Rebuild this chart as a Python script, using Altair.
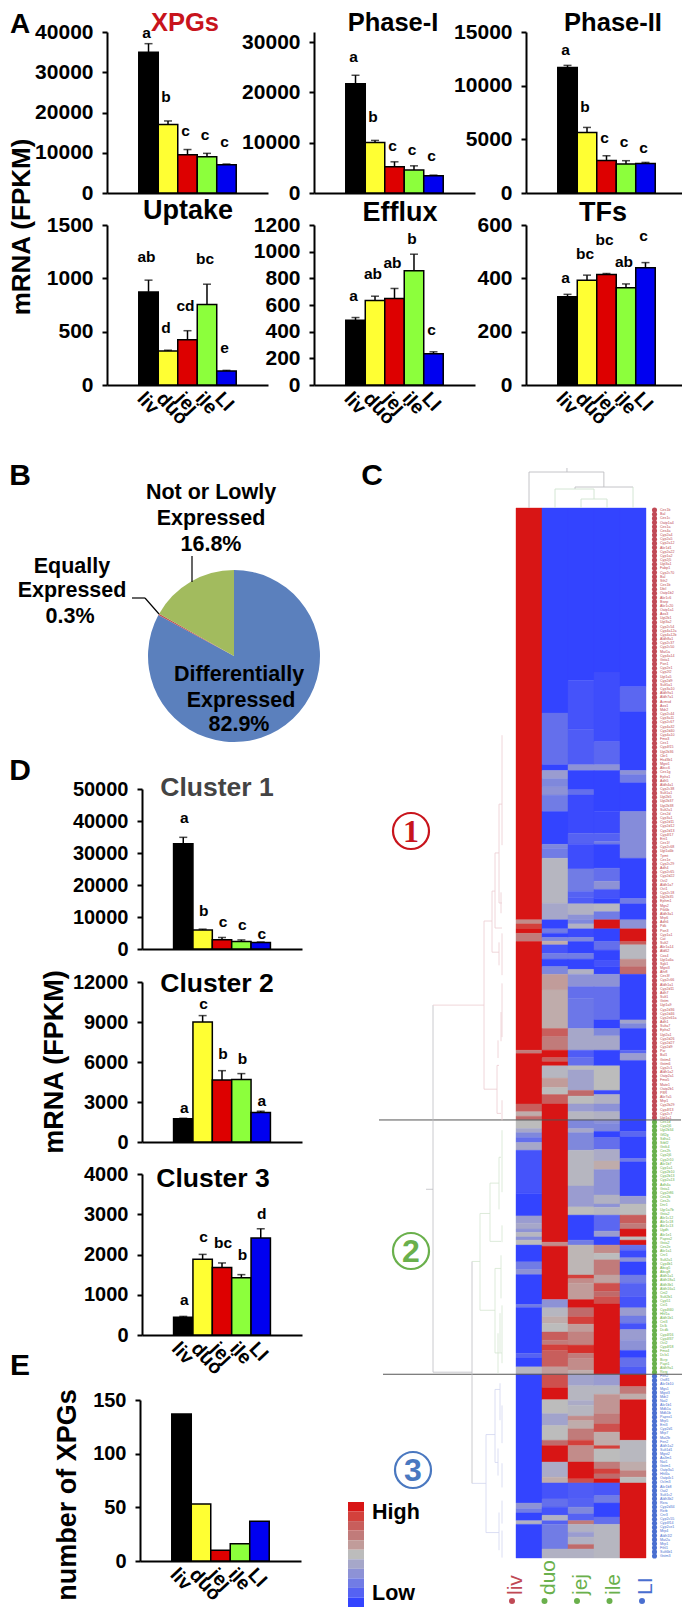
import altair as alt
import pandas as pd

FONT = "Liberation Sans"
W, H = 674, 1600

# ---------- data ----------
tissues = ["liv", "duo", "jej", "ile", "LI"]
tissue_colors = ["#000000", "#ffff33", "#dd0000", "#8cff3c", "#0000f0"]

xpgs_mean = [35000, 17000, 9500, 9000, 7000]
xpgs_err = [2100, 900, 1300, 850, 200]
xpgs_let = ["a", "b", "c", "c", "c"]
xpgs_let_at = [39700, 23800, 15400, 14400, 12700]

phase1_mean = [21700, 10050, 5200, 4550, 3450]
phase1_err = [1700, 400, 1000, 850, 100]
phase1_let = ["a", "b", "c", "c", "c"]
phase1_let_at = [27100, 15200, 9400, 8600, 7300]

phase2_mean = [11690, 5640, 3030, 2710, 2750]
phase2_err = [200, 470, 440, 300, 100]
phase2_let = ["a", "b", "c", "c", "c"]
phase2_let_at = [13280, 8050, 5150, 4770, 4150]

uptake_mean = [873, 318, 424, 755, 131]
uptake_err = [110, 8, 85, 190, 6]
uptake_let = ["ab", "d", "cd", "bc", "e"]
uptake_let_at = [1204, 530, 742, 1179, 343]

efflux_mean = [486, 634, 649, 856, 234]
efflux_err = [20, 32, 75, 125, 15]
efflux_let = ["a", "ab", "ab", "b", "c"]
efflux_let_at = [671, 833, 918, 1093, 414]

tfs_mean = [331, 393, 414, 365, 440]
tfs_err = [9, 19, 4, 14, 19]
tfs_let = ["a", "bc", "bc", "ab", "c"]
tfs_let_at = [400, 490, 543, 462, 560]

c1_mean = [32900, 5900, 2900, 2340, 2000]
c1_err = [2000, 300, 700, 500, 200]
c1_let = ["a", "b", "c", "c", "c"]
c1_let_at = [40850, 11830, 8480, 7590, 4800]

c2_mean = [1750, 9000, 4650, 4680, 2210]
c2_err = [30, 480, 700, 450, 100]
c2_let = ["a", "c", "b", "b", "a"]
c2_let_at = [2530, 10320, 6600, 6200, 3090]

c3_mean = [442, 1883, 1675, 1425, 2409]
c3_err = [20, 120, 115, 75, 230]
c3_let = ["a", "c", "bc", "b", "d"]
c3_let_at = [875, 2430, 2290, 2000, 3000]

xpg_counts = [137, 53, 10, 16, 37]

pie_groups = ["Differentially Expressed", "Equally Expressed", "Not or Lowly Expressed"]
pie_shares = [82.9, 0.3, 16.8]
pie_colors = ["#5b80bd", "#c0504d", "#a2bb5e"]

# heat map: (last row of the block, level 0 = low .. 1 = high)
heat_liv = [(100.4, 1), (101.4, .65), (102.6, .9), (103.7, 1), (105.7, .7), (132.2, 1), (133, .7), (145.3, 1),
            (147.2, .8), (148.3, .55), (149.2, .75), (151.3, .5), (152.3, .4), (153.5, .25), (154.7, .15),
            (156.6, .4), (167.1, .05), (172.6, 0), (174.4, .35), (175.8, .4), (176.6, .3), (177.7, .47),
            (178.5, .3), (179.7, .5), (183.8, 0), (185.7, .2), (186.9, .3), (194.2, 0), (194.9, .2), (206.1, 0),
            (207.2, .1), (209.4, 0), (211.2, .47), (242.6, 0), (244, .3), (245, .2), (246.9, 0), (247.8, .45),
            (256, 0)]
heat_duo = [(50, 0), (62.6, .15), (64, 0), (66, .35), (68, .25), (70, .3), (74, .2), (82, 0), (83, .25), (85.4, .2),
            (96.4, .47), (100.4, .4), (102.6, 0), (103.7, .2), (104.7, 0), (105.6, .25), (106.5, .55), (108.6, .05),
            (110, .2), (111.8, 0), (113.7, .25), (117.5, .6), (126.9, .55), (128.9, .8), (132.2, .7), (134, 1),
            (135, .8), (136, 1), (139, .47), (141.3, .6), (143, .5), (145.3, .8), (179, 1), (180, .65), (193, 1),
            (195, .3), (197.2, .47), (198.8, .55), (200.9, .5), (202.9, .8), (204, .7), (205.4, .9), (209.4, .8),
            (211.2, .6), (214.5, .85), (217.4, 1), (220.8, .5), (223.7, .38), (227.3, .5), (228.6, .75), (232.6, 1),
            (236.3, .42), (237.7, .55), (241.6, .05), (243.6, .15), (245.6, .05), (246.9, .45), (247.8, .1),
            (253.8, .2), (256, .45)]
heat_jej = [(42, 0), (54, .05), (62.6, .08), (64, .3), (68.7, 0), (70, .15), (79.3, .02), (82, .1), (88, .03),
            (93.5, .2), (95, .1), (96.5, .08), (99.2, .45), (100.4, .3), (101.4, .25), (102.6, .45), (104.7, .02),
            (105.7, .25), (108.6, 0), (110, .2), (112.5, 0), (113.7, .45), (116.7, .3), (119.6, .15), (126.9, .18),
            (132.2, .4), (134, .08), (136, .15), (137, .5), (142, .38), (143.4, .75), (145.3, .5), (147.2, .35),
            (149.2, .47), (151.3, .25), (152.3, .4), (156.6, .25), (165.3, .47), (170.4, .35), (172.4, .5),
            (178.5, 0), (179.7, .2), (187, .52), (187.9, .9), (189, .65), (193, .6), (195, 1), (197.2, .75),
            (199, .9), (200.9, .6), (204.1, .68), (206.1, .95), (207.4, .7), (210.2, .65), (211.2, .55), (214, .38),
            (217.6, .47), (218.8, .42), (221.4, .47), (222.5, .65), (224.5, .55), (227.3, .7), (228.6, .9),
            (232.6, .65), (236.7, 1), (237.7, .85), (241.6, .08), (243.6, .1), (245.2, .25), (246.9, .1),
            (247.8, .7), (249.7, .45), (250.9, .35), (252.7, .45), (253.8, .75), (256, .45)]
heat_ile = [(40, 0), (57, .03), (62.6, .12), (64, .3), (74, 0), (79.3, .02), (81.3, .1), (82, .2), (87.8, 0),
            (91, .15), (93, .3), (95.2, .05), (96.5, 0), (98.4, .47), (100.4, .2), (102.6, 1), (105.7, 0),
            (107.8, .15), (110.4, 0), (111.8, .05), (113.7, 0), (116.7, .3), (124.8, .15), (126.9, 0), (128.7, .25),
            (132.2, .4), (136, 0), (142, .5), (143, .02), (145.3, .45), (147.2, .3), (149.2, .45), (150, .3),
            (152, .25), (153.5, 0), (156.4, .15), (159.2, .42), (161.3, .55), (167.5, .3), (169.7, .45), (170.5, .3),
            (172.4, .47), (176.3, .12), (177.7, .35), (179.7, 0), (181.7, .65), (183.3, .5), (187, .7), (189, .58),
            (191, .85), (192.3, .75), (194.1, .85), (211.2, 1), (214, .35), (216.1, .47), (220.8, .62), (223.3, .7),
            (225.3, .85), (228.6, .55), (229.4, .9), (232.6, .5), (234.3, .7), (235.5, .9), (236.7, .75), (237.7, 1),
            (240.8, .06), (242.6, .2), (246, 0), (247.8, .15), (256, .47)]
heat_li = [(43.6, 0), (49.7, .12), (64, 0), (65, .3), (67, .2), (74, 0), (85.4, .27), (95.2, 0), (96.5, .2), (100.4, 0),
           (102.6, .3), (105.7, 1), (106.5, .8), (110, .48), (111.8, .65), (113.7, .75), (124.8, 0), (125.7, .38),
           (126.9, .25), (132.2, 0), (133, .12), (134.7, .35), (152, 0), (153.3, .12), (158.6, 0), (159.4, .2),
           (167.8, 0), (169.7, .35), (172.4, .5), (174.4, .8), (175.8, .7), (177.7, 1), (178.5, .5), (179.7, 1),
           (181, .15), (182.8, .02), (183.8, .3), (187, 0), (189, .2), (192.3, .1), (195, .05), (197, .35),
           (198.8, .2), (200.3, .05), (202.9, .35), (205.4, .3), (207.2, 0), (209.4, .15), (211.2, .08), (214.2, 1),
           (216, .7), (217.4, .55), (227.3, 1), (232.6, .48), (234.7, .55), (236.3, .68), (237.7, .5), (256, 1)]
heat_rows_total = 256
cluster_ends = [149.2, 211.2]
legend_levels = [1, .9, .8, .7, .6, .5, .4, .3, .2, .1, 0]

genes_c1 = ("Ces1b Bal Ces1c Oatp1a4 Ces1a Ces4a Cyp2a4 Cyp2a5 Cyp2a12 Akr1d1 Cyp2a22 Cyp1a2 Cyp2j5 Ugt3a1 Fabp1 Cyp2c70 "
            "Bal Sth2 Ces1b Dbil Oatp1b2 Akr1c6 Bsep Akr1c20 Oatp1a1 Aox3 Ugt2b1 Ugt3a2 Cyp2c54 Cyp4a12a Cyp4a12b Aldh8a1 "
            "Cyp2c37 Cyp2c50 Mat1a Cyp4a14 Gsta1 Pon1 Cyp2e1 Cyp2f2 Ugt1a5 Cyp2d9 Sult5a1 Cyp3a10 Aldh9a1 Aldh7a1 Acmsd "
            "Aox1 Mdr2 Cyp2c44 Cyp3a11 Cyp2c67 Cyp4a32 Cyp2d40 Cyp4a10 Fmo3 Ces1 Cyp4f15 Ugt2b36 Cbr1 Hsd3b1 Mgst1 Abcc6 "
            "Ces1g Ephx1 Adh5 Aldh4a1 Cyp2c38 Sult1a1 Ugt2b5 Ugt2b37 Ugt2b38 Sult2a1 Ces2d Cyp3a1 Cyp2d11 Cyp2d12 Cyp2d13 "
            "Cyp4f17 Ent1 Ces1f Cyp2c68 Ugt1a6b Tpmt Ces1e Cyp2c29 Adh4 Cyp2c65 Cyp2d22 Oct2 Aldh1a7 Oct1 Cyp2c18 Ugt2b35 "
            "Ephm1 Mgs2 Ptk6b Aldh3a1 Mrp6 Adh6 Pdk Pon3 Cyp1a1 Cat Sult2 Akr1a14 Ald62 Cox4 Ugt1a6a Sgk1 Mgst3 Ahr8 Ces3f "
            "Cyp2c66 Aldh1a1 Cyp2d11 Adh7 Sult1 Gstm Ugt1a9 Cyp2d36 Cyp2d46 Cyp2e61a Adh1 Sulta7 Ephx2 Ugt2a1 Cyp2d26 "
            "Cyp2d27 Cyp2d9 Pxr Bal1 Gstm4 Gstm6 Cyp2c1 Aldh1a2 Oatp2a1 Fmo5 Mate1 Oatp2b1 P8R Akr7a5 Mrp1 Cyp2b29 Cyp4f13 "
            "Cyp2c7 Ugt1a1").split()
genes_c2 = ("Ces1d Cyp2j6 Ugt2b34 Gfl2g Sdha1 Srbf2 Gstk4 Ces2h Cyp2j6 Cyp2r10 Akr1b7 Cyp1a1 Cyp2b10 Cyp2b13 Cyp2a13 Adh4a "
            "Gsta1 Cyp2r86 Ces2b Ces2c Dnr1 Ugr1a7b Gsta2 Akr1c12 Akr1c18 Akr1c13 Ugdh Akr1e1 Papss2 Gsta2 Ces2e Akr1a1 "
            "Cnr1 Sult2a1 Cyp4b1 Abcg5 Abcg8 Aldh1a1 Aldh18a1 Aldh3b1 Aldh16a1 Cnt2 Sult2b1 Cyp51 Cst1 Cyp4f40 Hhf1a "
            "Aldh1b1 Cnt3 Dclk Dcdk Cyp4f16 Cyp4f37 Oct2 Cyp4f18 Fmo4 Dclx1 Bcrp Papt1 Aldh9a1 Rxrg").split()
genes_c3 = ("Fen2 Ost81 Akr1b10 Mgs1 Mgst3 Mdr2 Nat2 Akr1b1 Mdk1a Mdk1b Papss1 Mrp5 Ent3 Cyp2d1 Mrp7 Mat2b Fen2 Aldh1a2 "
            "Sult1d1 Mgst2 Aa3m1 Nat1 Gstm1 Oatp3a1 Hhf4a Oatp4c1 Oclm3 Akr1b8 Oat2 Sult1c2 Aldh3b2 Rxra Cyp2d34 Rxrb Cnr3 "
            "Cyp2c55 Cyp4f14 Cyp2ce1 Mrp4 Aldh1l2 Mat2a Mrp1 Fthl1 Sult6b1 Gstm3").split()
cluster_colors = ["#c04a55", "#6ab04c", "#4a6fd0"]
dendro_gray, dendro_pink, dendro_green, dendro_blue = "#bdbdc2", "#ecccd0", "#d4e6d0", "#d2d6f0"

# left dendrogram: (distance from, distance to, row from, row to, colour)
dendro_rows = [
    (69, 69, 121.2, 210.7, dendro_gray), (69, 18, 121.2, 121.2, dendro_pink), (69, 30, 210.7, 210.7, dendro_gray),
    (76, 69, 166.1, 166.1, dendro_gray), (30, 30, 183.7, 237.8, dendro_gray), (30, 22, 183.7, 183.7, dendro_green),
    (30, 16, 237.8, 237.8, dendro_blue),
    (18, 18, 100.7, 141.7, dendro_pink), (18, 10, 100.7, 100.7, dendro_pink), (18, 5, 141.7, 141.7, dendro_pink),
    (10, 10, 93.4, 108.3, dendro_pink), (10, 7, 93.4, 93.4, dendro_pink), (10, 3, 108.3, 108.3, dendro_pink),
    (7, 7, 84.1, 102.4, dendro_pink), (7, 3, 84.1, 84.1, dendro_pink), (7, 0, 102.4, 102.4, dendro_pink),
    (3, 3, 72.2, 96.3, dendro_pink), (3, 0, 72.2, 72.2, dendro_pink), (3, 0, 96.3, 96.3, dendro_pink),
    (0, 0, 55.4, 82.2, dendro_pink), (3, 3, 105.9, 111.5, dendro_pink), (0, 0, 103.7, 113.9, dendro_pink),
    (1, 1, 93.7, 98.8, dendro_pink), (5, 5, 135.9, 147.6, dendro_pink), (5, 3, 135.9, 135.9, dendro_pink),
    (5, 1, 147.6, 147.6, dendro_pink), (4, 4, 129.8, 134.1, dendro_pink), (0, 0, 115.9, 129, dendro_pink),
    (1, 1, 122.9, 130, dendro_pink), (0, 0, 144.4, 149.3, dendro_pink),
    (22, 22, 172, 195.6, dendro_green), (22, 12, 172, 172, dendro_green), (22, 7, 195.6, 195.6, dendro_green),
    (12, 12, 164.6, 178.8, dendro_green), (12, 3, 164.6, 164.6, dendro_green), (12, 1, 178.8, 178.8, dendro_green),
    (3, 3, 158.3, 171, dendro_green), (3, 1, 158.3, 158.3, dendro_green), (0, 0, 151.7, 166.8, dendro_green),
    (0, 0, 174.9, 179, dendro_green), (7, 7, 185.4, 206, dendro_green), (7, 1, 185.4, 185.4, dendro_green),
    (7, 0, 206, 206, dendro_green), (1, 1, 182.2, 192.7, dendro_green), (4, 4, 201.2, 211, dendro_green),
    (2, 2, 196.3, 205.9, dendro_green), (0, 0, 194.4, 208.5, dendro_green),
    (16, 16, 225.9, 249.8, dendro_blue), (16, 7, 225.9, 225.9, dendro_blue), (16, 3, 249.8, 249.8, dendro_blue),
    (7, 7, 214.9, 232.7, dendro_blue), (7, 2, 214.9, 214.9, dendro_blue), (7, 4, 232.7, 232.7, dendro_blue),
    (4, 4, 229.3, 235.9, dendro_blue), (2, 2, 213.4, 222.4, dendro_blue), (0, 0, 218.8, 228, dendro_blue),
    (0, 0, 232.9, 238.8, dendro_blue), (3, 3, 244.9, 254.1, dendro_blue), (0, 0, 242, 247.6, dendro_blue),
    (0, 0, 249.3, 255.9, dendro_blue),
]
# top dendrogram: (column from, column to, height from, height to, colour)
dendro_cols = [
    (1.96, 1.96, 36, 40, dendro_gray), (.5, 3.38, 36, 36, dendro_gray), (.5, .5, 0, 36, dendro_gray),
    (3.38, 3.38, 21, 36, dendro_gray), (2.27, 4.5, 21, 21, dendro_gray), (4.5, 4.5, 0, 21, "#cfe3cf"),
    (2.27, 2.27, 19, 21, dendro_gray), (1.5, 3, 19, 19, "#cfe3cf"), (1.5, 1.5, 0, 19, "#cfe3cf"),
    (3, 3, 9, 19, "#cfe3cf"), (2.5, 3.5, 9, 9, "#cfe3cf"), (2.5, 2.5, 0, 9, "#cfe3cf"), (3.5, 3.5, 0, 9, "#cfe3cf"),
]

ONE = pd.DataFrame({"n": [0]})


def px(v):
    return v - 8


def label(text, x, y, size, color="black", weight="bold", angle=0, align="center", font=FONT):
    return alt.Chart(ONE).mark_text(text=text, fontSize=size, color=color, fontWeight=weight, angle=angle,
                                    align=align, baseline="middle", font=font).encode(
        x=alt.value(px(x)), y=alt.value(px(y)))


def bar_panel(mean, err, lets, lets_at, top, ticks, ax, ax_end, y_top, y_zero, tick_font=21, x_labels=False, dx=-2):
    df = pd.DataFrame({"tissue": tissues, "mean": mean})
    df["hi"] = [m + e for m, e in zip(mean, err)] if err else mean
    df["let"] = lets if lets else [""] * 5
    df["at"] = lets_at if lets_at else mean
    xs = alt.Scale(domain=["_a"] + tissues + ["_b"], range=[px(ax), px(ax_end)], paddingInner=0, paddingOuter=0.63)
    ys = alt.Scale(domain=[0, top], range=[px(y_zero), px(y_top)], nice=False)
    x_axis = alt.Axis(orient="bottom", offset=-(H - px(y_zero)), title=None, ticks=False, grid=False, domainWidth=2,
                      domainColor="black", labels=x_labels, values=tissues, labelAngle=47, labelAlign="left",
                      labelBaseline="middle", labelPadding=10, labelOffset=-8, labelFont=FONT, labelFontSize=19.5,
                      labelFontWeight="bold", labelColor="black", labelOverlap=False, labelBound=False, labelFlush=False)
    y_axis = alt.Axis(orient="left", offset=-px(ax), title=None, values=ticks, format="d", grid=False, domainWidth=2,
                      domainColor="black", tickColor="black", tickWidth=2, tickSize=5, labelPadding=9, labelFont=FONT,
                      labelFontSize=tick_font, labelFontWeight="bold", labelColor="black", labelOverlap=False,
                      labelBound=False, labelFlush=False)
    X = alt.X("tissue:N", scale=xs, axis=None)
    base = alt.Chart(df)
    bars = base.mark_bar(stroke="black", strokeWidth=1.5).encode(
        x=alt.X("tissue:N", scale=xs, axis=x_axis), y=alt.Y("mean:Q", scale=ys, axis=y_axis),
        color=alt.Color("tissue:N", scale=alt.Scale(domain=tissues, range=tissue_colors), legend=None))
    parts = []
    if err:
        parts.append(base.mark_rule(color="black", strokeWidth=1.5).encode(
            x=X, y=alt.Y("mean:Q", scale=ys, axis=None), y2="hi:Q"))
        parts.append(base.mark_tick(color="black", size=8, thickness=1.5).encode(
            x=X, y=alt.Y("hi:Q", scale=ys, axis=None)))
    parts.append(bars)
    if lets:
        parts.append(base.mark_text(font=FONT, fontSize=15.5, fontWeight="bold", color="black", dx=dx,
                                    baseline="middle").encode(
            x=X, y=alt.Y("at:Q", scale=ys, axis=None), text="let:N"))
    return alt.layer(*parts).resolve_axis(x="independent", y="independent")


layers = []
# panel A
layers.append(bar_panel(xpgs_mean, xpgs_err, xpgs_let, xpgs_let_at, 40000, [0, 10000, 20000, 30000, 40000], 107, 268, 32, 193))
layers.append(bar_panel(phase1_mean, phase1_err, phase1_let, phase1_let_at, 32000, [0, 10000, 20000, 30000], 314, 475, 32, 193))
layers.append(bar_panel(phase2_mean, phase2_err, phase2_let, phase2_let_at, 15000, [0, 5000, 10000, 15000], 526, 687, 32, 193))
layers.append(bar_panel(uptake_mean, uptake_err, uptake_let, uptake_let_at, 1500, [0, 500, 1000, 1500], 107, 268, 225, 385, x_labels=True))
layers.append(bar_panel(efflux_mean, efflux_err, efflux_let, efflux_let_at, 1200, [0, 200, 400, 600, 800, 1000, 1200], 314, 475, 225, 385, x_labels=True))
layers.append(bar_panel(tfs_mean, tfs_err, tfs_let, tfs_let_at, 600, [0, 200, 400, 600], 526, 687, 225, 385, x_labels=True))
# panel D
layers.append(bar_panel(c1_mean, c1_err, c1_let, c1_let_at, 50000, [0, 10000, 20000, 30000, 40000, 50000], 142, 302, 789, 949, tick_font=20, dx=1))
layers.append(bar_panel(c2_mean, c2_err, c2_let, c2_let_at, 12000, [0, 3000, 6000, 9000, 12000], 142, 302, 982, 1142, tick_font=20, dx=1))
layers.append(bar_panel(c3_mean, c3_err, c3_let, c3_let_at, 4000, [0, 1000, 2000, 3000, 4000], 142, 302, 1174, 1335, tick_font=20, x_labels=True, dx=1))
# panel E
layers.append(bar_panel(xpg_counts, None, None, None, 150, [0, 50, 100, 150], 140, 301, 1400, 1561, tick_font=20, x_labels=True))

# panel B
pie_df = pd.DataFrame({"group": pie_groups, "share": pie_shares, "order": [0, 1, 2]})
layers.append(alt.Chart(pie_df).mark_arc(radius=86).encode(
    theta=alt.Theta("share:Q", stack=True),
    order=alt.Order("order:Q"),
    color=alt.Color("group:N", scale=alt.Scale(domain=pie_groups, range=pie_colors), legend=None),
    x=alt.value(px(234)), y=alt.value(px(656))))
for x1, y1, x2, y2 in [(192, 556, 192, 582), (132, 598, 145, 598), (145, 598, 159, 614)]:
    layers.append(alt.Chart(ONE).mark_rule(color="black", strokeWidth=1.2).encode(
        x=alt.value(px(x1)), x2=alt.value(px(x2)), y=alt.value(px(y1)), y2=alt.value(px(y2))))

# panel C : heat map
heat_cols = {"liv": heat_liv, "duo": heat_duo, "jej": heat_jej, "ile": heat_ile, "LI": heat_li}
heat_records = []
for col, blocks in heat_cols.items():
    start = 0
    for end, level in blocks:
        heat_records.append({"col": col, "start": start, "end": end, "level": level})
        start = end
heat_df = pd.DataFrame(heat_records)
heat_x = alt.Scale(domain=tissues, range=[px(516), px(646)], padding=0)
heat_y = alt.Scale(domain=[0, heat_rows_total], range=[px(508), px(1558)], nice=False, zero=False)
level_scale = alt.Scale(domain=[0, .25, .5, .75, 1], range=["#3344ff", "#7f88dc", "#bcbcbc", "#c06a6a", "#d81515"])

heat_layers = [alt.Chart(heat_df).mark_rect(strokeWidth=0.4).encode(
    x=alt.X("col:N", scale=heat_x, axis=None),
    y=alt.Y("start:Q", scale=heat_y, axis=None), y2="end:Q",
    color=alt.Color("level:Q", scale=level_scale, legend=None),
    stroke=alt.Stroke("level:Q", scale=level_scale, legend=None))]

# rows of gene labels and dots
gene_records = []
for genes, lo, hi, colr in [(genes_c1, 0, cluster_ends[0], cluster_colors[0]),
                            (genes_c2, cluster_ends[0], cluster_ends[1], cluster_colors[1]),
                            (genes_c3, cluster_ends[1], heat_rows_total, cluster_colors[2])]:
    for i, g in enumerate(genes):
        gene_records.append({"gene": g, "row": lo + (i + .5) * (hi - lo) / len(genes), "colr": colr})
gene_df = pd.DataFrame(gene_records)
heat_layers.append(alt.Chart(gene_df).mark_circle(size=26, opacity=1).encode(
    x=alt.value(px(654.5)), y=alt.Y("row:Q", scale=heat_y, axis=None), color=alt.Color("colr:N", scale=None)))
heat_layers.append(alt.Chart(gene_df).mark_text(font=FONT, fontSize=3.6, align="left", baseline="middle").encode(
    x=alt.value(px(660)), y=alt.Y("row:Q", scale=heat_y, axis=None), text="gene:N", color=alt.Color("colr:N", scale=None)))

# separators
sep_df = pd.DataFrame({"row": cluster_ends, "x0": [px(379), px(383)], "x1": [px(681), px(684)]})
heat_layers.append(alt.Chart(sep_df).mark_rule(color="#555555", strokeWidth=1).encode(
    y=alt.Y("row:Q", scale=heat_y, axis=None), x=alt.X("x0:Q", scale=None, axis=None), x2="x1:Q"))

# left dendrogram
dr = pd.DataFrame(dendro_rows, columns=["d0", "d1", "r0", "r1", "colr"])
dx_scale = alt.Scale(domain=[0, 76], range=[px(502), px(426)], nice=False, zero=False)
heat_layers.append(alt.Chart(dr).mark_rule(strokeWidth=0.8).encode(
    x=alt.X("d0:Q", scale=dx_scale, axis=None), x2="d1:Q",
    y=alt.Y("r0:Q", scale=heat_y, axis=None), y2="r1:Q", color=alt.Color("colr:N", scale=None)))
layers.append(alt.layer(*heat_layers))

# top dendrogram
dc = pd.DataFrame(dendro_cols, columns=["c0", "c1", "h0", "h1", "colr"])
layers.append(alt.Chart(dc).mark_rule(strokeWidth=0.9).encode(
    x=alt.X("c0:Q", scale=alt.Scale(domain=[0, 5], range=[px(516), px(646)], nice=False, zero=False), axis=None), x2="c1:Q",
    y=alt.Y("h0:Q", scale=alt.Scale(domain=[0, 40], range=[px(508), px(468)], nice=False, zero=False), axis=None), y2="h1:Q",
    color=alt.Color("colr:N", scale=None)))

# heat-map column names
col_df = pd.DataFrame({"col": tissues, "colr": [cluster_colors[0], cluster_colors[1], cluster_colors[1], cluster_colors[1], cluster_colors[2]]})
col_x = alt.Scale(domain=tissues, range=[px(516), px(646)], padding=0)
layers.append(alt.layer(
    alt.Chart(col_df).mark_text(font=FONT, fontSize=21, angle=270, align="left", baseline="middle").encode(
        x=alt.X("col:N", scale=col_x, axis=None), y=alt.value(px(1595)), text="col:N", color=alt.Color("colr:N", scale=None)),
    alt.Chart(col_df).mark_circle(size=36, opacity=1, xOffset=-4).encode(
        x=alt.X("col:N", scale=col_x, axis=None), y=alt.value(px(1601)), color=alt.Color("colr:N", scale=None)),
))

# heat-map colour key
key_df = pd.DataFrame({"level": legend_levels, "name": [str(v) for v in legend_levels]})
layers.append(alt.Chart(key_df).mark_rect().encode(
    x=alt.value(px(348)), x2=alt.value(px(364)),
    y=alt.Y("name:N", sort=None, scale=alt.Scale(domain=key_df["name"].tolist(), range=[px(1502), px(1607)], padding=0), axis=None),
    color=alt.Color("level:Q", scale=level_scale, legend=None)))

# circled cluster numbers
for num, x, y, colr, font in [("1", 411, 831, "#c8141c", "Liberation Serif"), ("2", 411, 1251, "#6ab04c", FONT), ("3", 413, 1470, "#4a78c0", FONT)]:
    layers.append(alt.Chart(ONE).mark_point(shape="circle", filled=False, size=1296, strokeWidth=2.2, color=colr, opacity=1).encode(
        x=alt.value(px(x)), y=alt.value(px(y))))
    layers.append(label(num, x, y + 1, 32, color=colr, font=font))

# text
texts = [
    ("A", 20, 25, 28, "black", 0), ("B", 20, 476, 30, "black", 0), ("C", 372, 476, 30, "black", 0),
    ("D", 20, 771, 30, "black", 0), ("E", 20, 1366, 30, "black", 0),
    ("XPGs", 185, 23, 25.5, "#c8141c", 0), ("Phase-I", 393, 23, 25.5, "black", 0), ("Phase-II", 613, 23, 25.5, "black", 0),
    ("Uptake", 188, 211, 27, "black", 0), ("Efflux", 400, 213, 27, "black", 0), ("TFs", 603, 213, 27, "black", 0),
    ("Cluster 1", 217, 788, 26.5, "#444444", 0), ("Cluster 2", 217, 984, 26.5, "black", 0), ("Cluster 3", 213, 1179, 26.5, "black", 0),
    ("mRNA (FPKM)", 22, 227, 26, "black", 270), ("mRNA (FPKM)", 55, 1062, 27, "black", 270),
    ("number of XPGs", 68, 1495, 27, "black", 270),
    ("Not or Lowly", 211, 493, 21.5, "black", 0), ("Expressed", 211, 519, 21.5, "black", 0), ("16.8%", 211, 545, 21.5, "black", 0),
    ("Equally", 72, 567, 21.5, "black", 0), ("Expressed", 72, 591, 21.5, "black", 0), ("0.3%", 70, 617, 21.5, "black", 0),
    ("Differentially", 239, 675, 21.5, "black", 0), ("Expressed", 241, 701, 21.5, "black", 0), ("82.9%", 239, 725, 21.5, "black", 0),
]
for t, x, y, s, c, a in texts:
    layers.append(label(t, x, y, s, color=c, angle=a))
layers.append(label("High", 372, 1513, 21.5, align="left"))
layers.append(label("Low", 372, 1594, 21.5, align="left"))

chart = alt.layer(*layers).resolve_scale(x="independent", y="independent", color="independent", stroke="independent", theta="independent").resolve_axis(
    x="independent", y="independent").properties(
    width=W, height=H, padding=0, autosize=alt.AutoSizeParams(type="none")).configure_view(stroke=None)

chart.save("out.html", embed_options={"renderer": "svg", "actions": False})
